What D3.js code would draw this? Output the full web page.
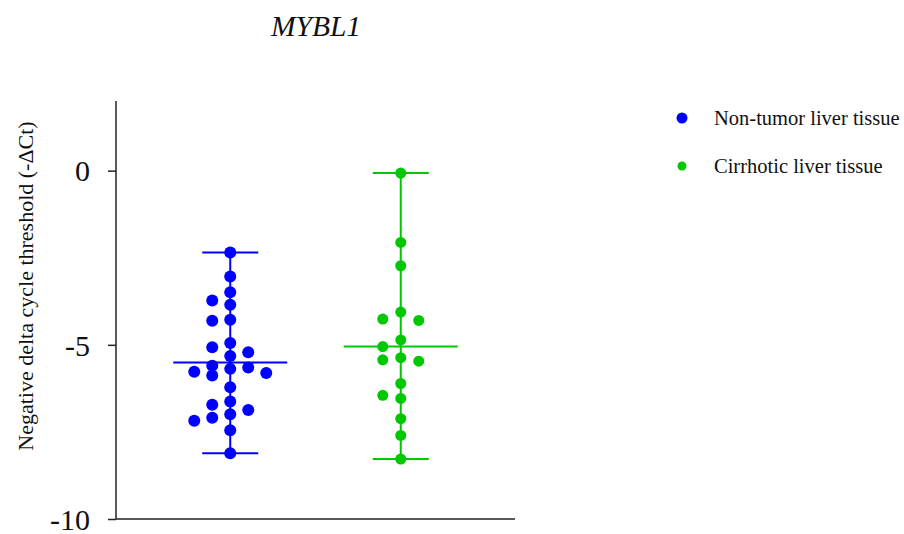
<!DOCTYPE html>
<html>
<head>
<meta charset="utf-8">
<script src="https://cdn.jsdelivr.net/npm/d3@7"></script>
<style>
  body { margin: 0; background: #fff; }
  svg { display: block; }
  svg text { font-family: "Liberation Serif", "Times New Roman", serif; }
</style>
</head>
<body>
<svg class="mybl1-chart" width="904" height="534"></svg>
<script>
// values (-ΔCt)
const groups = ['Non-tumor liver tissue', 'Cirrhotic liver tissue']
const colors = ['#0000ff', '#00c800']

const nonTumor = [-2.35, -3.04, -3.49, -3.73, -3.85, -4.31, -4.28, -5.07, -4.95, -5.21,
  -5.32, -5.60, -5.77, -5.81, -5.69, -5.65, -5.88, -6.22, -6.63, -6.72,
  -6.99, -6.87, -7.09, -7.18, -7.45, -8.11]
const cirrhotic = [-0.07, -2.06, -2.73, -4.06, -4.30, -4.26, -4.86, -5.05, -5.37, -5.47,
  -5.43, -6.11, -6.45, -6.54, -7.12, -7.60, -8.28]

const yTicks = [0, -5, -10]
const title = 'MYBL1'
const yLabel = 'Negative delta cycle threshold (-ΔCt)'

const series = [nonTumor, cirrhotic]

const svg = d3.select('.mybl1-chart')

const y = d3.scaleLinear().domain([-10, 2]).range([519, 101])
const x = d3.scalePoint().domain(groups).range([116, 515]).padding(0.67)

// axes (plain hyphen for the minus sign, like the figure)
const yAxis = svg.append('g')
    .attr('transform', 'translate(116,0)')
    .call(d3.axisLeft(y).tickValues(yTicks).tickSize(8).tickPadding(18).tickFormat(d => String(d)))
yAxis.attr('font-family', null)
yAxis.select('.domain').remove()
yAxis.selectAll('.tick line').attr('stroke', '#222').attr('stroke-width', 1.5)
yAxis.selectAll('.tick text')
    .attr('font-size', 30)
    .attr('fill', '#111')
    .attr('dy', '0.34em')

svg.append('line')
    .attr('x1', 116).attr('x2', 116)
    .attr('y1', y(2)).attr('y2', y(-10))
    .attr('stroke', '#222').attr('stroke-width', 1.5)
svg.append('line')
    .attr('x1', 116).attr('x2', 515)
    .attr('y1', y(-10)).attr('y2', y(-10))
    .attr('stroke', '#222').attr('stroke-width', 1.5)

// title + axis label
svg.append('text')
    .attr('x', 316).attr('y', 36)
    .attr('text-anchor', 'middle')
    .attr('font-size', 29.5)
    .attr('font-style', 'italic')
    .attr('fill', '#111')
    .text(title)

svg.append('text')
    .attr('transform', 'translate(33,' + 286 + ') rotate(-90)')
    .attr('text-anchor', 'middle')
    .attr('font-size', 22)
    .attr('fill', '#111')
    .text(yLabel)

// simple swarm: greedy slots around the centre, top to bottom
const slotW = 18
const slotOrder = [0, -1, 1, -2, 2]
const minGap = 12
const swarm = vals => {
    const placed = []
    vals.slice().sort((a, b) => b - a).forEach(v => {
        const py = y(v)
        const gapAt = s => d3.min(placed.filter(p => p.slot === s), p => Math.abs(p.py - py)) ?? Infinity
        let slot = slotOrder.find(s => gapAt(s) >= minGap)
        if (slot === undefined) slot = d3.greatest(slotOrder, s => gapAt(s))
        placed.push({ v, py, slot })
    })
    return placed
}

series.forEach((vals, i) => {
    const cx = x(groups[i])
    const col = colors[i]
    const g = svg.append('g')
    const mean = d3.mean(vals)
    const [lo, hi] = d3.extent(vals)

    g.append('line')
        .attr('x1', cx).attr('x2', cx)
        .attr('y1', y(hi)).attr('y2', y(lo))
        .attr('stroke', col).attr('stroke-width', 2)
    ;[hi, lo].forEach(v => {
        g.append('line')
            .attr('x1', cx - 28).attr('x2', cx + 28)
            .attr('y1', y(v)).attr('y2', y(v))
            .attr('stroke', col).attr('stroke-width', 2)
    })
    g.append('line')
        .attr('x1', cx - 57).attr('x2', cx + 57)
        .attr('y1', y(mean)).attr('y2', y(mean))
        .attr('stroke', col).attr('stroke-width', 2)

    g.selectAll('circle')
        .data(swarm(vals))
        .enter()
        .append('circle')
        .attr('cx', d => cx + d.slot * slotW)
        .attr('cy', d => d.py)
        .attr('r', i === 0 ? 6 : 5.5)
        .attr('fill', col)
})

// legend
const legend = svg.append('g')
groups.forEach((name, i) => {
    const ly = 118 + i * 48
    legend.append('circle')
        .attr('cx', 682).attr('cy', ly)
        .attr('r', i === 0 ? 5.5 : 4.5)
        .attr('fill', colors[i])
    legend.append('text')
        .attr('x', 714).attr('y', ly + 7)
        .attr('font-size', 20.5)
        .attr('fill', '#111')
        .text(name)
})
</script>
</body>
</html>
